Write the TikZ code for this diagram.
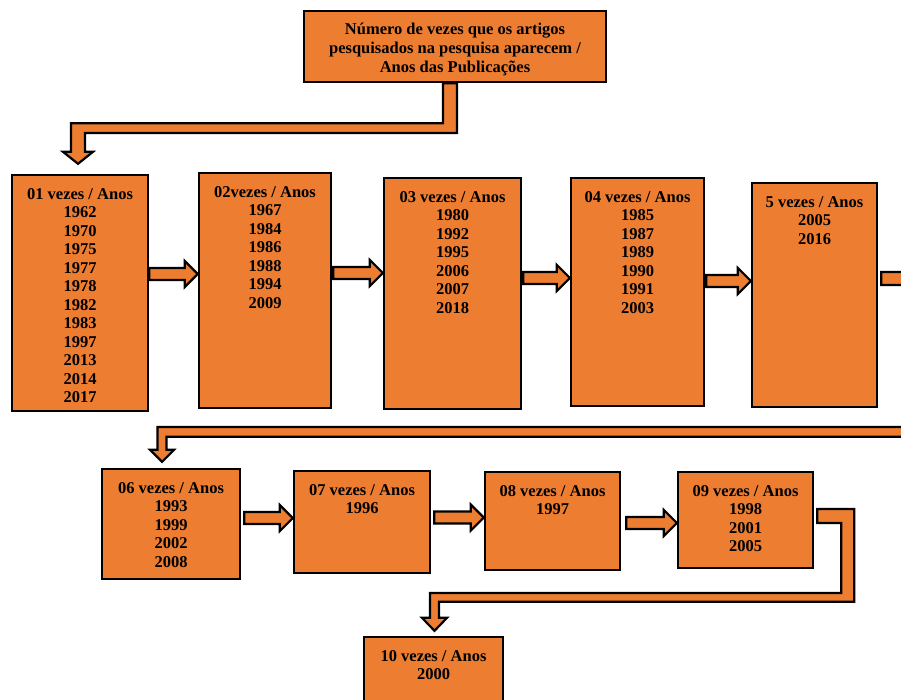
\documentclass[tikz,border=0pt]{standalone}
\usepackage{fontspec}
\setmainfont{Liberation Serif}
\usetikzlibrary{calc}
\definecolor{BoxOrange}{RGB}{237,125,49}
\tikzset{
  yearbox/.style={draw=black, line width=2.4pt, fill=BoxOrange, inner sep=0pt},
  titletxt/.style={align=center, inner sep=0pt, font=\bfseries\fontsize{16.5}{19}\selectfont},
  yeartxt/.style={anchor=north, align=center, inner sep=0pt, font=\bfseries\fontsize{16.5}{18.5}\selectfont},
  barrow/.style={draw=black, line width=2.2pt, fill=BoxOrange, line join=miter},
}

\begin{document}
\begin{tikzpicture}[x=1pt, y=-1pt]
  \useasboundingbox (0,0) rectangle (901,700);
  \clip (0,0) rectangle (901,700);
  \fill[white] (0,0) rectangle (901,700);

  % title
  \node[yearbox, minimum width=302pt, minimum height=71pt] (title) at (455,46.5) {};
  \node[titletxt] (title-txt) at ($(title.center)+(0,2.5)$)
    {Número de vezes que os artigos\\pesquisados na pesquisa aparecem /\\Anos das Publicações};

  % year boxes
  \foreach \n/\cx/\cy/\w/\h/\yrs in {
    b1/80/293/136/236/{01 vezes / Anos\\1962\\1970\\1975\\1977\\1978\\1982\\1983\\1997\\2013\\2014\\2017},
    b2/265/290.5/132/235/{02vezes / Anos\\1967\\1984\\1986\\1988\\1994\\2009},
    b3/452.5/293.5/137/231/{03 vezes / Anos\\1980\\1992\\1995\\2006\\2007\\2018},
    b4/637.5/292/133/228/{04 vezes / Anos\\1985\\1987\\1989\\1990\\1991\\2003},
    b5/814.5/295/125/224/{5 vezes / Anos\\2005\\2016},
    b6/171/524/138/110/{06 vezes / Anos\\1993\\1999\\2002\\2008},
    b7/362/522/136/102/{07 vezes / Anos\\1996},
    b8/552.5/521/135/98/{08 vezes / Anos\\1997},
    b9/745.5/520/135/96/{09 vezes / Anos\\1998\\2001\\2005},
    b10/433.5/687/139/100/{10 vezes / Anos\\2000}} {
    \node[yearbox, minimum width=\w pt, minimum height=\h pt] (\n) at (\cx,\cy) {};
    \node[yeartxt] (\n-txt) at ($(\n.north)+(0,14.5)$) {\yrs};
  }

  % straight block arrows
  \foreach \a/\b/\y/\g in {b1/b2/274/0, b2/b3/273/1, b3/b4/278/1, b4/b5/281/1,
                           b6/b7/518/3, b7/b8/517.5/3, b8/b9/523/5} {
    \draw[barrow] ($(\a.east |- 0,\y)+(\g,-6)$) -- ($(\b.west |- 0,\y)+(-13,-6)$) -- ++(0,-7)
      -- (\b.west |- 0,\y) -- ($(\b.west |- 0,\y)+(-13,13)$) -- ++(0,-7)
      -- ($(\a.east |- 0,\y)+(\g,6)$) -- cycle;
  }

  % bent block arrows
  \coordinate (tip1) at ($(b1.north)+(-2,-10)$);
  \coordinate (tip6) at ($(b6.north)+(-9,-6)$);
  \coordinate (tip10) at ($(b10.north)+(1,-5)$);
  \draw[barrow] ($(title.south)+(2,0)$) |- ($(tip1 |- 0,133)+(7,0)$) -- ($(tip1)+(7,-12)$)
    -- ($(tip1)+(15,-12)$) -- (tip1) -- ($(tip1)+(-15,-12)$) -- ($(tip1)+(-7,-12)$)
    |- ($(title.south)+(-12,40)$) -- ($(title.south)+(-12,0)$) -- cycle;
  \draw[barrow] ($(b5.east)+(3,-23)$) -- ++(35,0) |- ($(tip6)+(4.5,-25)$) -- ($(tip6)+(4.5,-12)$)
    -- ($(tip6)+(12,-12)$) -- (tip6) -- ($(tip6)+(-12,-12)$) -- ($(tip6)+(-4.5,-12)$)
    |- ($(b5.east)+(27,132)$) |- ($(b5.east)+(3,-10)$) -- cycle;
  \draw[barrow] ($(b9.east)+(3,-11)$) -- ++(37,0) |- ($(tip10)+(4.5,-29)$) -- ($(tip10)+(4.5,-13)$)
    -- ($(tip10)+(12.5,-13)$) -- (tip10) -- ($(tip10)+(-12.5,-13)$) -- ($(tip10)+(-4.5,-13)$)
    |- ($(b9.east)+(27,73)$) |- ($(b9.east)+(3,3)$) -- cycle;
\end{tikzpicture}
\end{document}
